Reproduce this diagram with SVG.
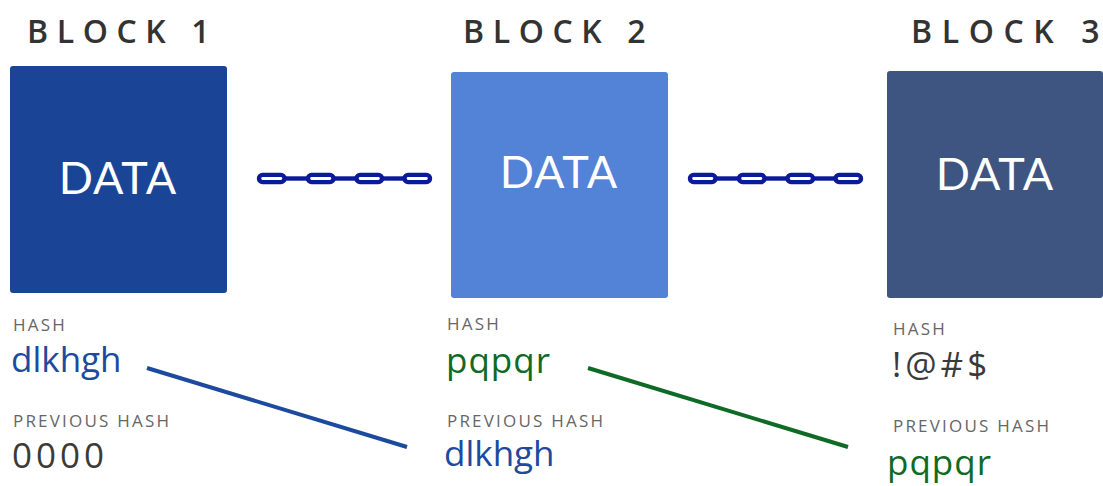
<svg xmlns="http://www.w3.org/2000/svg" xmlns:xlink="http://www.w3.org/1999/xlink" width="1103" height="486" viewBox="0 0 1103 486">
  <style>
    .title { font-family: "Open Sans", "Liberation Sans", sans-serif; font-weight: 600; font-size: 32px; letter-spacing: 8.6px; fill: #333333; }
    .last { letter-spacing: 0; }
    .data { font-family: "Lato", "Liberation Sans", sans-serif; font-size: 45px; fill: #ffffff; text-anchor: middle; letter-spacing: 1px; }
    .label { font-family: "Open Sans", "Liberation Sans", sans-serif; font-size: 17px; letter-spacing: 2.2px; fill: #666666; }
    .value { font-family: "Open Sans", "Liberation Sans", sans-serif; font-size: 35px; }
    .blue { fill: #1c4a9e; }
    .green { fill: #0e6a25; }
    .dark { fill: #3a3a3a; }
    .link { fill: #ffffff; stroke: #0a1a9a; stroke-width: 4.4; }
    .bar { stroke: #0a1a9a; stroke-width: 4.4; }
  </style>
  <defs>
    <!-- one chain made of four oval links joined by short bars -->
    <g id="chain">
      <line class="bar" x1="27" y1="0" x2="52" y2="0"/>
      <line class="bar" x1="75" y1="0" x2="100" y2="0"/>
      <line class="bar" x1="124" y1="0" x2="148" y2="0"/>
      <rect class="link" x="2" y="-3.6" width="25.5" height="7.2" rx="3.6"/>
      <rect class="link" x="51" y="-3.6" width="25.5" height="7.2" rx="3.6"/>
      <rect class="link" x="99.5" y="-3.6" width="25.5" height="7.2" rx="3.6"/>
      <rect class="link" x="147.5" y="-3.6" width="25.5" height="7.2" rx="3.6"/>
    </g>
  </defs>

  <rect width="1103" height="486" fill="#ffffff"/>

  <!-- chains between the blocks and hash reference lines -->
  <g id="connectors">
    <use xlink:href="#chain" href="#chain" x="257" y="178.5"/>
    <use xlink:href="#chain" href="#chain" x="688" y="178.5"/>
    <line x1="147" y1="368" x2="407" y2="447" stroke="#1c4a9e" stroke-width="4"/>
    <line x1="588" y1="368" x2="848" y2="447" stroke="#0e6a25" stroke-width="4"/>
  </g>

  <g id="block1">
    <text class="title" x="27" y="43">BLOCK <tspan class="last">1</tspan></text>
    <rect x="10" y="66" width="217" height="227" rx="3" fill="#1a4597"/>
    <text class="data" x="118" y="194">DATA</text>
    <text class="label" x="13" y="331">HASH</text>
    <text class="value blue" x="11" y="372">dlkhgh</text>
    <text class="label" x="13" y="427">PREVIOUS HASH</text>
    <text class="value dark" x="12" y="468" style="letter-spacing:4px">0000</text>
  </g>

  <g id="block2">
    <text class="title" x="463" y="43">BLOCK <tspan class="last">2</tspan></text>
    <rect x="451" y="72" width="217" height="226" rx="3" fill="#5383d6"/>
    <text class="data" x="559" y="188">DATA</text>
    <text class="label" x="447" y="330">HASH</text>
    <text class="value green" x="446" y="373" style="letter-spacing:1px">pqpqr</text>
    <text class="label" x="447" y="427">PREVIOUS HASH</text>
    <text class="value blue" x="444" y="466">dlkhgh</text>
  </g>

  <g id="block3">
    <text class="title" x="911" y="43" style="letter-spacing:9.6px">BLOCK <tspan class="last">3</tspan></text>
    <rect x="887" y="71" width="216" height="227" rx="3" fill="#3d5580"/>
    <text class="data" x="995" y="190">DATA</text>
    <text class="label" x="893" y="335">HASH</text>
    <text class="value dark" x="892" y="377" style="letter-spacing:4px">!@#$</text>
    <text class="label" x="893" y="432">PREVIOUS HASH</text>
    <text class="value green" x="887" y="475" style="letter-spacing:1px">pqpqr</text>
  </g>
</svg>
